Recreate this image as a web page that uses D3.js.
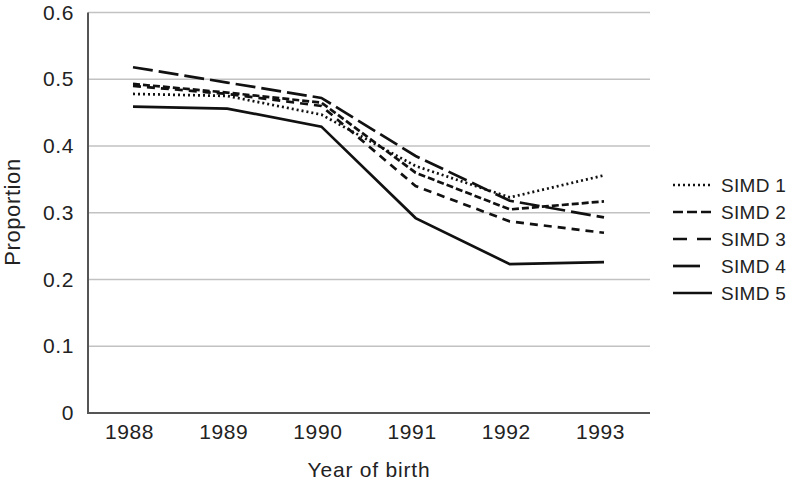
<!DOCTYPE html>
<html>
<head>
<meta charset="utf-8">
<script src="https://cdn.jsdelivr.net/npm/d3@7"></script>
<style>
  body { margin: 0; background: #fff; }
  text { font-family: "Liberation Sans", Arial, sans-serif; fill: #222; }
</style>
</head>
<body>
<div id="chart"></div>
<script>
// data
const years = ["1988", "1989", "1990", "1991", "1992", "1993"]
const simd1 = [0.478, 0.475, 0.447, 0.370, 0.323, 0.356]
const simd2 = [0.493, 0.480, 0.465, 0.360, 0.305, 0.317]
const simd3 = [0.490, 0.478, 0.460, 0.340, 0.287, 0.270]
const simd4 = [0.518, 0.495, 0.472, 0.385, 0.318, 0.293]
const simd5 = [0.459, 0.456, 0.429, 0.292, 0.223, 0.226]
const seriesNames = ["SIMD 1", "SIMD 2", "SIMD 3", "SIMD 4", "SIMD 5"]
const yTicks = [0, 0.1, 0.2, 0.3, 0.4, 0.5, 0.6]

// line styles: in the plot, and the legend swatches
const dashes = ["2,3", "7,3", "8,6", "20,6", null]
const legendDashes = ["2,3", "10,4", "14,10", "27,20", null]
const series = [simd1, simd2, simd3, simd4, simd5].map((v, i) => ({
  name: seriesNames[i], values: v, dash: dashes[i], legendDash: legendDashes[i]
}))

const width = 789
const height = 485
const plotLeft = 88, plotRight = 650, plotTop = 12.5, plotBottom = 413

const svg = d3.select("#chart")
  .append("svg")
  .attr("width", width)
  .attr("height", height)

const x = d3.scalePoint()
  .domain(years)
  .range([133, 604])

const y = d3.scaleLinear()
  .domain([0, 0.6])
  .range([plotBottom, plotTop])

// gridlines
svg.selectAll(".grid")
  .data(yTicks.filter(d => d > 0))
  .enter().append("line")
  .attr("class", "grid")
  .attr("x1", plotLeft)
  .attr("x2", plotRight)
  .attr("y1", d => y(d))
  .attr("y2", d => y(d))
  .style("stroke", "#c2c2c2")
  .style("stroke-width", 1.5)

// y axis
const yAxis = svg.append("g")
  .attr("transform", `translate(${plotLeft},0)`)
  .call(d3.axisLeft(y).tickValues(yTicks).tickSize(0).tickPadding(14)
    .tickFormat(d => d === 0 ? "0" : d3.format(".1f")(d)))
yAxis.select(".domain").remove()
yAxis.selectAll("text")
  .style("font-size", "21px").style("letter-spacing", "0.6px").style("fill", "#222")
  .attr("font-family", null)

// x axis
const xAxis = svg.append("g")
  .attr("transform", `translate(0,${plotBottom})`)
  .call(d3.axisBottom(x).tickSize(0))
xAxis.select(".domain").remove()
xAxis.selectAll("text")
  .style("font-size", "21px").style("letter-spacing", "0.6px").style("fill", "#222")
  .attr("x", -4).attr("y", 26).attr("dy", null)
  .attr("font-family", null)

// axis lines
svg.append("line")
  .attr("x1", plotLeft).attr("x2", plotLeft)
  .attr("y1", plotTop).attr("y2", plotBottom)
  .style("stroke", "#555").style("stroke-width", 2)
svg.append("line")
  .attr("x1", plotLeft - 1).attr("x2", plotRight)
  .attr("y1", plotBottom).attr("y2", plotBottom)
  .style("stroke", "#555").style("stroke-width", 2)

// lines
const line = d3.line()
  .x((d, i) => x(years[i]))
  .y(d => y(d))

svg.selectAll(".series")
  .data(series)
  .enter().append("path")
  .attr("class", "series")
  .attr("d", d => line(d.values))
  .style("fill", "none")
  .style("stroke", "#111")
  .style("stroke-width", 2.7)
  .style("stroke-dasharray", d => d.dash)

// legend
const legend = svg.selectAll(".legend")
  .data(series)
  .enter().append("g")
  .attr("class", "legend")
  .attr("transform", (d, i) => `translate(673,${185 + i * 27})`)

legend.append("line")
  .attr("x1", 0).attr("x2", 39)
  .style("stroke", "#111")
  .style("stroke-width", 2.7)
  .style("stroke-dasharray", d => d.legendDash)

legend.append("text")
  .attr("x", 48)
  .attr("dy", "0.35em")
  .style("font-size", "19px")
  .style("letter-spacing", "0.3px")
  .text(d => d.name)

// axis titles
svg.append("text")
  .attr("transform", "translate(20,212) rotate(-90)")
  .attr("text-anchor", "middle")
  .style("font-size", "22px")
  .style("letter-spacing", "0.6px")
  .text("Proportion")

svg.append("text")
  .attr("x", 369)
  .attr("y", 477)
  .attr("text-anchor", "middle")
  .style("font-size", "21px")
  .style("letter-spacing", "0.8px")
  .text("Year of birth")
</script>
</body>
</html>
